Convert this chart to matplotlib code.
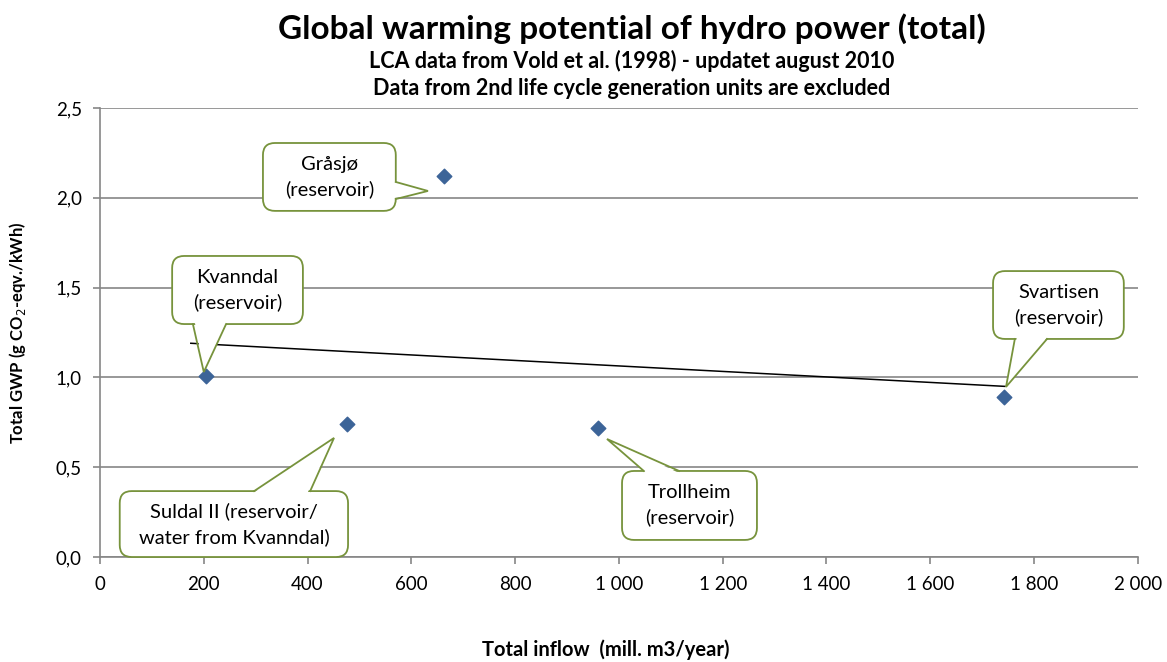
import matplotlib
matplotlib.use("Agg")
import matplotlib.pyplot as plt
from matplotlib.patches import FancyBboxPatch, Polygon
from matplotlib.lines import Line2D
from matplotlib.transforms import IdentityTransform
from matplotlib.ticker import FuncFormatter, MultipleLocator

plt.rcParams['font.family'] = ['Lato', 'DejaVu Sans']

# plants: total inflow (mill. m3/year) vs total GWP (g CO2-eqv./kWh)
plants = ['Kvanndal', 'Gråsjø', 'Suldal II', 'Trollheim', 'Svartisen']
inflow = [204, 663, 476, 960, 1742]
gwp = [1.01, 2.12, 0.74, 0.72, 0.89]

# callouts: text, box extents and pointer (data units)
labels = ['Kvanndal\n(reservoir)', 'Gråsjø\n(reservoir)',
          'Suldal II (reservoir/\nwater from Kvanndal)',
          'Trollheim\n(reservoir)', 'Svartisen\n(reservoir)']
box_x0 = [139, 314, 38, 1006, 1721]
box_x1 = [391, 570, 478, 1266, 1973]
box_y0 = [1.297, 1.927, 0.0, 0.095, 1.214]
box_y1 = [1.676, 2.305, 0.367, 0.479, 1.592]
# pointer base (two points on the box edge) and tip
base_a = [(179, 1.297), (570, 2.088), (297, 0.367), (1048, 0.479), (1763, 1.214)]
base_b = [(243, 1.297), (570, 1.993), (405, 0.367), (1116, 0.479), (1825, 1.214)]
tips = [(200, 1.030), (632, 2.038), (451, 0.663), (977, 0.657), (1746, 0.947)]

# black line drawn across the chart
line_x = [175, 1744]
line_y = [1.19, 0.95]

green = '#77933C'
grid = '#868686'

fig = plt.figure(figsize=(11.67, 6.62), dpi=100)
ax = fig.add_axes([0.0857, 0.1586, 0.975 - 0.0857, 0.8369 - 0.1586])

ax.set_xlim(0, 2000)
ax.set_ylim(0, 2.5)
ax.xaxis.set_major_locator(MultipleLocator(200))
ax.yaxis.set_major_locator(MultipleLocator(0.5))
ax.xaxis.set_major_formatter(FuncFormatter(lambda v, p: f'{int(v):,}'.replace(',', ' ')))
ax.yaxis.set_major_formatter(FuncFormatter(lambda v, p: f'{v:.1f}'.replace('.', ',')))

ax.grid(axis='y', color=grid, linewidth=1.2)
ax.set_axisbelow(True)
for s in ['top', 'right']:
    ax.spines[s].set_visible(False)
for s in ['left', 'bottom']:
    ax.spines[s].set_color(grid)
    ax.spines[s].set_linewidth(1.2)
ax.tick_params(axis='both', colors=grid, labelcolor='black', labelsize=13.5,
               length=5, width=1.2)
ax.tick_params(axis='x', pad=9)
ax.tick_params(axis='y', pad=8)

ax.plot(line_x, line_y, color='black', linewidth=1.1, zorder=3)
ax.scatter(inflow, gwp, marker='D', s=55, color='#3C6498', zorder=4)

# callouts drawn in pixel space so the corners stay round
fig.canvas.draw()
td = ax.transData
ident = IdentityTransform()
for i in range(len(labels)):
    (x0, y0), (x1, y1) = td.transform([(box_x0[i], box_y0[i]), (box_x1[i], box_y1[i])])
    r = 12
    box = FancyBboxPatch((x0 + r, y0 + r), x1 - x0 - 2 * r, y1 - y0 - 2 * r,
                         boxstyle=f'round,pad={r}', transform=ident, fc='white',
                         ec=green, lw=1.3, zorder=5, clip_on=False)
    fig.add_artist(box)
    pa, pb, pt = td.transform([base_a[i], base_b[i], tips[i]])
    # nudge the base into the box so the fill hides the box edge there
    cx, cy = (x0 + x1) / 2, (y0 + y1) / 2
    def inward(p):
        dx, dy = cx - p[0], cy - p[1]
        n = (dx * dx + dy * dy) ** 0.5
        return (p[0] + 2.5 * dx / n, p[1] + 2.5 * dy / n)
    fill = Polygon([inward(pa), pt, inward(pb)], closed=True, transform=ident,
                   fc='white', ec='none', zorder=5.1, clip_on=False)
    fig.add_artist(fill)
    edge = Line2D([pa[0], pt[0], pb[0]], [pa[1], pt[1], pb[1]], transform=ident,
                  color=green, lw=1.3, zorder=5.2, solid_joinstyle='miter')
    fig.add_artist(edge)
    fig.text(cx / fig.bbox.width, cy / fig.bbox.height, labels[i], ha='center',
             va='center', fontsize=14.5, linespacing=1.5, zorder=6)

fig.text(0.5415, 0.957, 'Global warming potential of hydro power (total)',
         ha='center', va='center', fontsize=24, fontweight='bold')
fig.text(0.5415, 0.908, 'LCA data from Vold et al. (1998) - updatet august 2010',
         ha='center', va='center', fontsize=15.5, fontweight='bold')
fig.text(0.5415, 0.866, 'Data from 2nd life cycle generation units are excluded',
         ha='center', va='center', fontsize=15.5, fontweight='bold')

ax.set_xlabel('Total inflow  (mill. m3/year)', fontsize=14.5, fontweight='bold')
ax.xaxis.set_label_coords(0.4875, -0.183)
ax.set_ylabel('Total GWP (g CO$_2$-eqv./kWh)', fontsize=12, fontweight='bold', labelpad=20)

fig.savefig('out.png', dpi=100)
